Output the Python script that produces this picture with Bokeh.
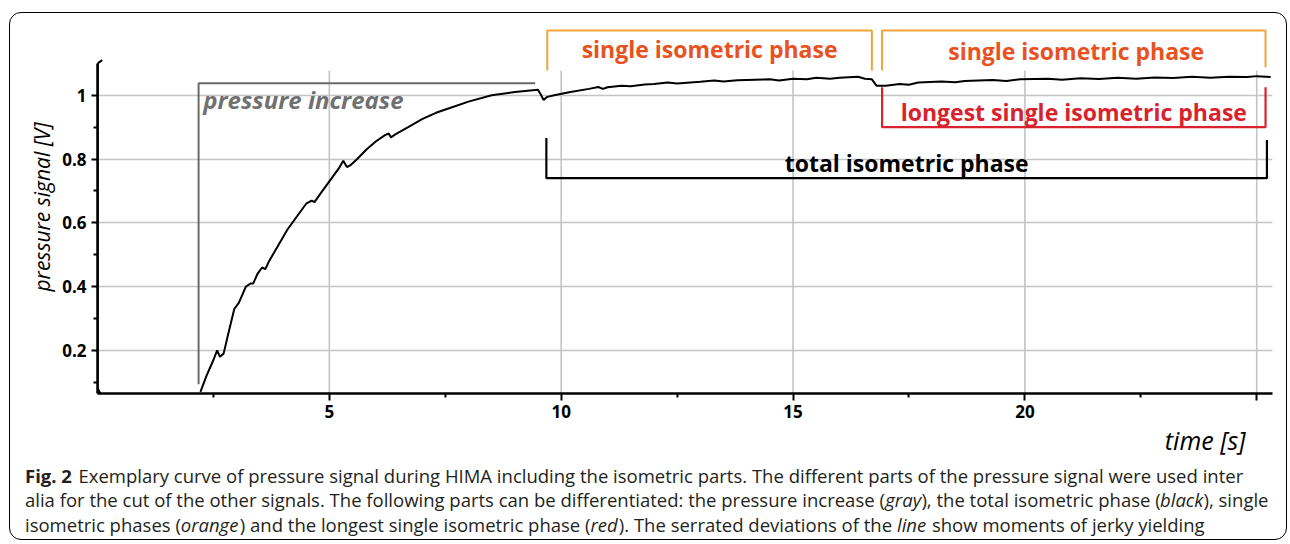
import math
from bokeh.plotting import figure
from bokeh.layouts import column
from bokeh.models import FixedTicker, Label, Title
from bokeh.embed import file_html
from bokeh.resources import INLINE

# ---------------- data ----------------
time_s = [2.22, 2.35, 2.5, 2.58, 2.64, 2.72, 2.8, 2.9, 2.95, 3.05, 3.2, 3.3, 3.36, 3.45, 3.55,
          3.62, 3.7, 3.9, 4.1, 4.3, 4.5, 4.62, 4.68, 4.8, 5.0, 5.2, 5.3, 5.38, 5.45, 5.6,
          5.8, 6.0, 6.2, 6.28, 6.33, 6.45, 6.7, 7.0, 7.3, 7.6, 8.0, 8.5, 9.0, 9.5, 9.55,
          9.62, 9.7, 9.85, 10.2, 10.6, 10.8, 10.9, 11.0, 11.3, 11.5, 11.8, 12.0, 12.3, 12.5,
          13.0, 13.3, 13.5, 13.8, 14.0, 14.5, 14.7, 15.0, 15.3, 15.5, 15.8, 16.0, 16.4,
          16.55, 16.7, 16.8, 17.0, 17.3, 17.5, 17.7, 18.2, 18.5, 18.7, 19.3, 19.6, 19.9,
          20.5, 20.8, 21.2, 21.6, 22.0, 22.4, 22.8, 23.2, 23.6, 24.0, 24.4, 24.8, 25.0, 25.3]
pressure_v = [0.07, 0.12, 0.17, 0.20, 0.18, 0.19, 0.24, 0.30, 0.33, 0.35, 0.40, 0.41, 0.41, 0.44, 0.46,
              0.455, 0.48, 0.53, 0.58, 0.62, 0.66, 0.67, 0.665, 0.69, 0.73, 0.77, 0.795, 0.775, 0.78, 0.80,
              0.83, 0.855, 0.875, 0.88, 0.868, 0.88, 0.90, 0.925, 0.945, 0.96, 0.98, 1.0, 1.01, 1.017, 1.005,
              0.985, 0.995, 1.0, 1.01, 1.02, 1.026, 1.02, 1.025, 1.03, 1.028, 1.034, 1.035, 1.04, 1.037,
              1.042, 1.046, 1.043, 1.047, 1.048, 1.05, 1.046, 1.052, 1.05, 1.055, 1.052, 1.055, 1.058,
              1.052, 1.05, 1.03, 1.03, 1.035, 1.033, 1.04, 1.043, 1.041, 1.045, 1.048, 1.045, 1.05,
              1.052, 1.049, 1.053, 1.051, 1.055, 1.052, 1.056, 1.054, 1.058, 1.055, 1.058, 1.057, 1.06, 1.057]

x_ticks = [5, 10, 15, 20, 25]
x_minor = [2.5, 7.5, 12.5, 17.5, 22.5]
y_ticks = [0.2, 0.4, 0.6, 0.8, 1.0]
y_minor = [0.1, 0.3, 0.5, 0.7, 0.9]

phase_names = ["pressure increase", "single isometric phase", "single isometric phase",
               "longest single isometric phase", "total isometric phase"]
phase_start = [2.18, 9.70, 16.92, 16.92, 9.68]
phase_end = [9.44, 16.70, 25.19, 25.19, 25.22]

caption = [
    [("Fig. 2 ", "bold"),
     ("Exemplary curve of pressure signal during HIMA including the isometric parts. The different parts of the pressure signal were used inter", "normal")],
    [("alia for the cut of the other signals. The following parts can be differentiated: the pressure increase (", "normal"),
     ("gray", "italic"), ("), the total isometric phase (", "normal"),
     ("black", "italic"), ("), single", "normal")],
    [("isometric phases (", "normal"), ("orange", "italic"),
     (") and the longest single isometric phase (", "normal"), ("red", "italic"),
     ("). The serrated deviations of the ", "normal"), ("line", "italic"),
     (" show moments of jerky yielding", "normal")],
]

FONT = "Open Sans"
W = 1276          # inner width of the rounded box
H1, H2 = 448, 78  # chart part / caption part

# approximate Open Sans advance widths (per 1000 em), used to chain caption pieces
ADV = {" ": 260, "(": 285, ")": 285, ",": 245, ".": 266, ":": 266,
       "a": 556, "b": 613, "c": 476, "d": 613, "e": 561, "f": 339, "g": 548, "h": 614,
       "i": 253, "j": 253, "k": 525, "l": 253, "m": 930, "n": 614, "o": 604, "p": 613,
       "q": 613, "r": 408, "s": 477, "t": 353, "u": 614, "v": 501, "w": 778, "x": 524,
       "y": 502, "z": 477, "A": 633, "E": 556, "F": 516, "H": 725, "I": 293, "M": 885,
       "T": 558, "2": 572}
STYLE_F = {"normal": 1.0, "italic": 0.97, "bold": 1.08}

def em_width(text, style):
    return sum(ADV.get(ch, 560) for ch in text) / 1000.0 * STYLE_F[style]

# calibration from a previous measurement of rendered widths at 18px
_meas = 1134 + 837
_pred = (em_width(caption[0][1][0], "normal") + em_width(caption[1][0][0], "normal")) * 18
K = _meas / _pred

# ---------------- main figure ----------------
p = figure(width=W, height=H1, x_range=(0, 25.34), y_range=(0.065, 1.2344),
           output_backend="svg", toolbar_location=None,
           min_border_left=87, min_border_right=14, min_border_top=7, min_border_bottom=68)
p.outline_line_color = None
p.background_fill_color = None
p.border_fill_color = None

p.xgrid.visible = False
p.ygrid.ticker = FixedTicker(ticks=y_ticks)
p.ygrid.grid_line_color = "#c4c4c4"
p.ygrid.grid_line_width = 1.6
p.segment(x0=x_ticks, y0=[0.065] * len(x_ticks), x1=x_ticks, y1=[1.078] * len(x_ticks),
          line_color="#c4c4c4", line_width=1.6)

for ax in (p.xaxis[0], p.yaxis[0]):
    ax.axis_line_width = 2.5
    ax.axis_line_color = "black"
    ax.major_tick_line_color = "black"
    ax.minor_tick_line_color = "black"
    ax.major_tick_line_width = 2
    ax.minor_tick_line_width = 2
    ax.major_tick_in = 0
    ax.minor_tick_in = 0
    ax.major_label_text_font = FONT
    ax.major_label_text_font_style = "bold"
    ax.major_label_text_font_size = "17px"
    ax.major_label_text_color = "black"

p.xaxis.ticker = FixedTicker(ticks=x_ticks, minor_ticks=x_minor)
p.xaxis.major_label_overrides = {25: ""}
p.xaxis.major_tick_out = 7
p.xaxis.minor_tick_out = 4
p.xaxis.major_label_standoff = 4

p.yaxis.ticker = FixedTicker(ticks=y_ticks, minor_ticks=y_minor)
p.yaxis.major_label_overrides = {1: "1"}
p.yaxis.bounds = (0.065, 1.10)
p.yaxis.major_tick_out = 6
p.yaxis.minor_tick_out = 4
p.yaxis.major_label_standoff = 5

# axis titles
p.add_layout(Title(text="pressure signal [V]", align="center", offset=39, standoff=8,
                   text_font=FONT, text_font_style="italic", text_font_size="21px",
                   text_color="black"), "left")
p.add_layout(Title(text="time [s]", align="right", offset=27, standoff=0,
                   text_font=FONT, text_font_style="italic", text_font_size="25px",
                   text_color="black"), "below")

# reinforce the y axis line inside the frame so it reads as bold as in the original
p.line([0, 0], [0.065, 1.10], line_color="black", line_width=2.5)

# axis end markers
p.scatter(x=[0], y=[1.10], marker="y", size=11, line_color="black", line_width=2)
p.scatter(x=[0], y=[0.065], marker="triangle", size=9, fill_color="white",
          line_color="black", line_width=2)

# curve
p.line(time_s, pressure_v, line_color="black", line_width=2)

# phase brackets
gray, orange, orange_txt, red = "#6a6a6a", "#f2a33a", "#e8521e", "#d8232e"
s, e = phase_start[0], phase_end[0]
p.line([s, s, e], [0.094, 1.0375, 1.0375], line_color=gray, line_width=2)
for i, (yl, yr) in zip([1, 2], [(1.078, 1.078), (1.078, 1.0875)]):
    s, e = phase_start[i], phase_end[i]
    p.line([s, s, e, e], [yl, 1.203, 1.203, yr], line_color=orange, line_width=2)
s, e = phase_start[3], phase_end[3]
p.line([s, s, e, e], [1.025, 0.90, 0.90, 1.025], line_color=red, line_width=2.2)
s, e = phase_start[4], phase_end[4]
p.line([s, s, e, e], [0.866, 0.74, 0.74, 0.86], line_color="black", line_width=2.2)

def lab(fig, text, x, y, **kw):
    base = dict(text_font=FONT, text_font_size="23px", text_font_style="bold",
                text_align="center", text_baseline="middle")
    base.update(kw)
    fig.add_layout(Label(x=x, y=y, text=text, **base))

lab(p, phase_names[0], phase_start[0] + 0.1, 0.9875, text_align="left", text_color="#707070",
    text_font_style="bold italic", text_font_size="24px")
lab(p, phase_names[1], (phase_start[1] + phase_end[1]) / 2, 1.145, text_color=orange_txt)
lab(p, phase_names[2], (phase_start[2] + phase_end[2]) / 2 + 0.05, 1.139, text_color=orange_txt)
lab(p, phase_names[3], (phase_start[3] + phase_end[3]) / 2, 0.947, text_color=red)
lab(p, phase_names[4], (phase_start[4] + phase_end[4]) / 2, 0.7875, text_color="black")

# ---------------- caption figure (coordinates = page pixels) ----------------
OX, OY = 10.5, 13.5 + H1
c = figure(width=W, height=H2, x_range=(OX, OX + W), y_range=(OY + H2, OY),
           output_backend="svg", toolbar_location=None, x_axis_type=None, y_axis_type=None,
           min_border=0)
c.outline_line_color = None
c.background_fill_color = None
c.border_fill_color = None
c.xgrid.visible = False
c.ygrid.visible = False

for fig in (p, c):
    if hasattr(fig, "frame_align"):
        fig.frame_align = False

CAP_SIZE = 18.5
baselines = [475, 499.5, 524]
for line, yb in zip(caption, baselines):
    x = 25.0
    for text, style in line:
        lead = len(text) - len(text.lstrip(" "))
        x_draw = x + K * CAP_SIZE * em_width(" " * lead, "normal")
        c.add_layout(Label(x=x_draw, y=yb, text=text.strip(" "), text_font=FONT,
                           text_font_size=f"{CAP_SIZE}px", text_font_style=style,
                           text_color="#231f20", text_align="left", text_baseline="alphabetic"))
        x += K * CAP_SIZE * em_width(text, style)

layout = column(p, c, spacing=0,
                styles={"border": "1.5px solid black", "border-radius": "12px",
                        "margin-left": "9px", "margin-top": "12px"})

open("out.html", "w").write(file_html(layout, INLINE))
